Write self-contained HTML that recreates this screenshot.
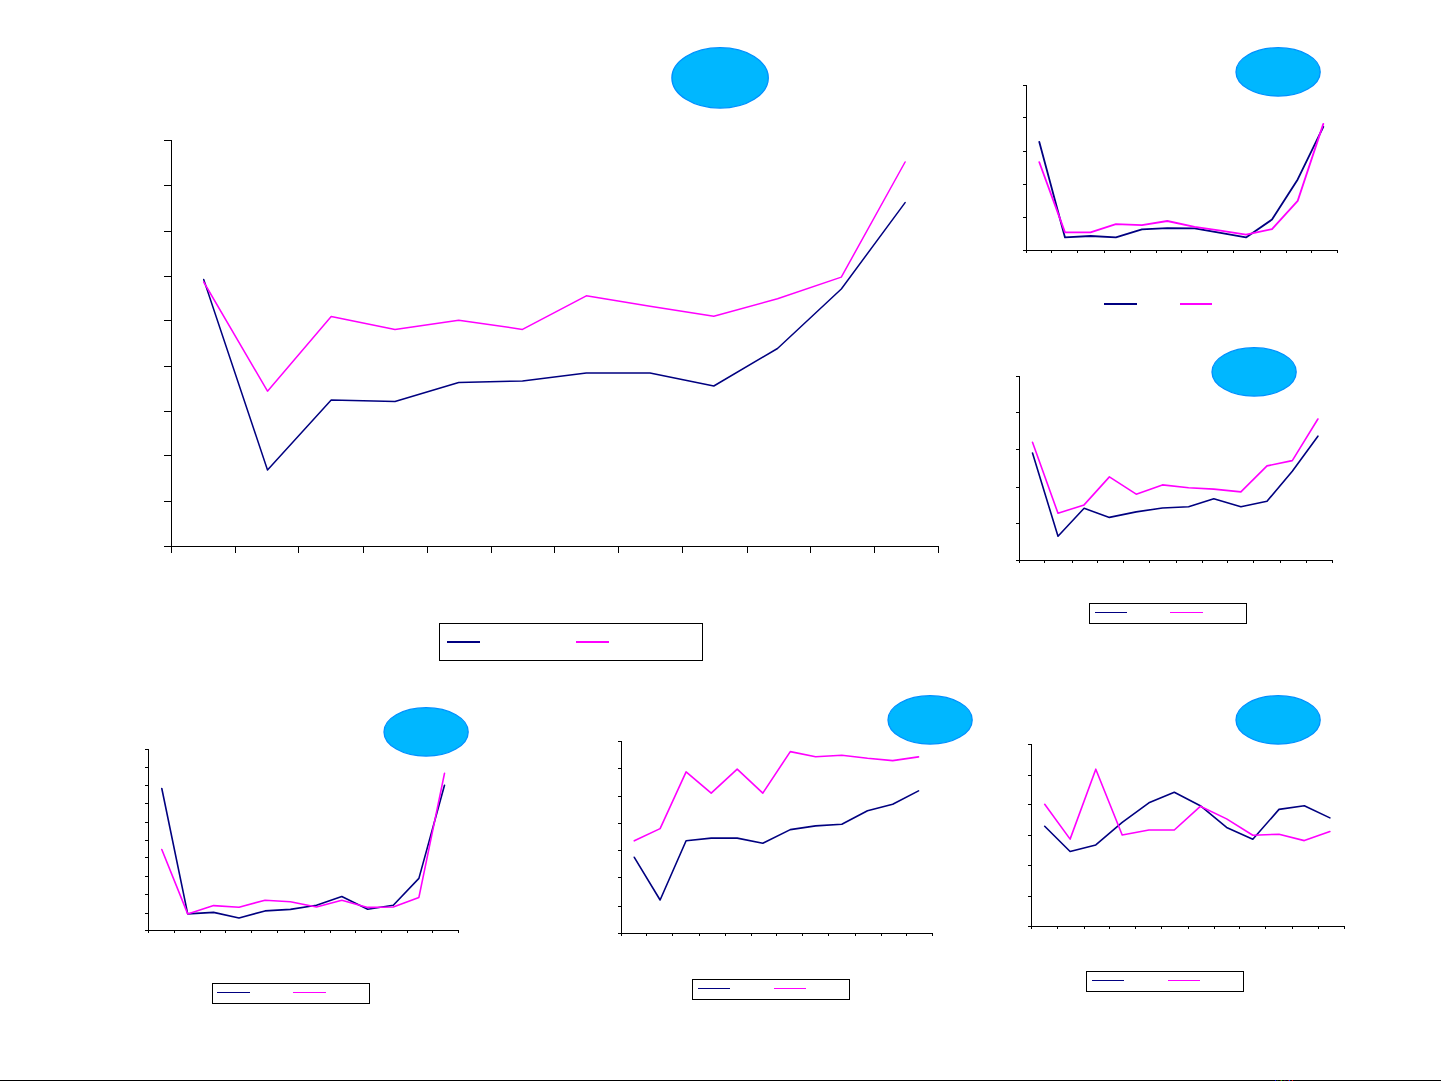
<!DOCTYPE html>
<html lang="en">
<head>
<meta charset="utf-8">
<title>Charts</title>
<style>
html,body{margin:0;padding:0;background:#fff;width:1441px;height:1081px;overflow:hidden;font-family:"Liberation Sans",sans-serif;}
svg{display:block;position:absolute;left:0;top:0;}
</style>
</head>
<body>
<svg width="1441" height="1081" viewBox="0 0 1441 1081">
<rect x="0" y="0" width="1441" height="1081" fill="#fff"/>
<path d="M171.5 140.0V547.0M164.0 546.5H939.0M164.0 140.5H171.5M164.0 185.5H171.5M164.0 231.5H171.5M164.0 276.5H171.5M164.0 320.5H171.5M164.0 366.5H171.5M164.0 411.5H171.5M164.0 455.5H171.5M164.0 501.5H171.5M171.5 546.5V553.0M235.5 546.5V553.0M298.5 546.5V553.0M363.5 546.5V553.0M427.5 546.5V553.0M491.5 546.5V553.0M554.5 546.5V553.0M618.5 546.5V553.0M682.5 546.5V553.0M747.5 546.5V553.0M810.5 546.5V553.0M874.5 546.5V553.0M938.5 546.5V553.0" stroke="#000" stroke-width="1" fill="none" shape-rendering="crispEdges"/>
<polyline points="203.7,279.5 267.5,470.0 331.2,400.0 395.0,401.5 458.7,382.5 522.5,381.0 586.3,373.0 650.0,373.0 713.8,386.0 777.5,348.5 841.3,289.0 905.1,202.6" fill="none" stroke="#000080" stroke-width="1.5" stroke-linejoin="round" stroke-linecap="round"/>
<polyline points="203.7,282.0 267.5,391.2 331.2,316.5 395.0,329.5 458.7,320.2 522.5,329.4 586.3,295.8 650.0,306.2 713.8,316.2 777.5,298.8 841.3,277.1 905.1,162.0" fill="none" stroke="#FF00FF" stroke-width="1.5" stroke-linejoin="round" stroke-linecap="round"/>
<ellipse cx="720.1" cy="77.9" rx="48.2" ry="30.2" fill="#00B7FF" stroke="#0090FF" stroke-width="1.3"/>
<rect x="439.5" y="623.5" width="263" height="37" fill="#fff" stroke="#000" stroke-width="1" shape-rendering="crispEdges"/>
<path d="M447 642H480" stroke="#000080" stroke-width="2" shape-rendering="crispEdges"/>
<path d="M576 642H609" stroke="#FF00FF" stroke-width="2" shape-rendering="crispEdges"/>
<path d="M1026.5 85.0V251.0M1023.0 250.5H1338.0M1023.0 85.5H1026.5M1023.0 117.5H1026.5M1023.0 151.5H1026.5M1023.0 184.5H1026.5M1023.0 217.5H1026.5M1026.5 250.5V253.0M1051.5 250.5V253.0M1077.5 250.5V253.0M1104.5 250.5V253.0M1130.5 250.5V253.0M1156.5 250.5V253.0M1181.5 250.5V253.0M1207.5 250.5V253.0M1233.5 250.5V253.0M1260.5 250.5V253.0M1286.5 250.5V253.0M1311.5 250.5V253.0M1337.5 250.5V253.0" stroke="#000" stroke-width="1" fill="none" shape-rendering="crispEdges"/>
<polyline points="1039.3,141.9 1065.0,237.4 1090.5,236.0 1115.9,237.4 1141.9,229.3 1167.3,228.1 1194.6,228.4 1220.5,232.9 1246.0,237.4 1272.0,219.6 1297.7,179.4 1323.3,126.9" fill="none" stroke="#000080" stroke-width="1.8" stroke-linejoin="round" stroke-linecap="round"/>
<polyline points="1039.3,162.2 1065.0,232.4 1090.5,232.4 1115.9,224.1 1141.9,225.2 1167.3,221.0 1194.6,226.8 1220.5,230.7 1246.0,234.6 1272.0,229.1 1297.7,200.9 1323.3,123.9" fill="none" stroke="#FF00FF" stroke-width="1.8" stroke-linejoin="round" stroke-linecap="round"/>
<ellipse cx="1278.1" cy="71.9" rx="42.1" ry="24.2" fill="#00B7FF" stroke="#0090FF" stroke-width="1.3"/>
<path d="M1104 304H1137" stroke="#000080" stroke-width="2" shape-rendering="crispEdges"/>
<path d="M1180 304H1212" stroke="#FF00FF" stroke-width="2" shape-rendering="crispEdges"/>
<path d="M1019.5 376.0V561.0M1016.0 560.5H1333.0M1016.0 376.5H1019.5M1016.0 412.5H1019.5M1016.0 449.5H1019.5M1016.0 487.5H1019.5M1016.0 523.5H1019.5M1019.5 560.5V563.0M1044.5 560.5V563.0M1072.5 560.5V563.0M1097.5 560.5V563.0M1123.5 560.5V563.0M1149.5 560.5V563.0M1176.5 560.5V563.0M1202.5 560.5V563.0M1227.5 560.5V563.0M1253.5 560.5V563.0M1280.5 560.5V563.0M1306.5 560.5V563.0M1332.5 560.5V563.0" stroke="#000" stroke-width="1" fill="none" shape-rendering="crispEdges"/>
<polyline points="1032.5,453.0 1058.0,536.3 1084.1,508.3 1109.4,517.4 1136.2,511.9 1162.4,508.0 1188.6,506.7 1213.8,498.8 1240.9,506.7 1267.0,501.2 1292.3,471.3 1317.9,436.2" fill="none" stroke="#000080" stroke-width="1.6" stroke-linejoin="round" stroke-linecap="round"/>
<polyline points="1032.5,442.3 1058.0,513.3 1084.1,504.9 1109.4,476.9 1136.2,494.2 1162.4,484.9 1188.6,487.7 1213.8,489.1 1240.9,491.9 1267.0,465.9 1292.3,460.6 1317.9,419.0" fill="none" stroke="#FF00FF" stroke-width="1.6" stroke-linejoin="round" stroke-linecap="round"/>
<ellipse cx="1254.1" cy="371.9" rx="42.1" ry="24.2" fill="#00B7FF" stroke="#0090FF" stroke-width="1.3"/>
<rect x="1089.5" y="603.5" width="157" height="20" fill="#fff" stroke="#000" stroke-width="1" shape-rendering="crispEdges"/>
<path d="M1095 612.5H1127" stroke="#000080" stroke-width="1" shape-rendering="crispEdges"/>
<path d="M1170 612.5H1203" stroke="#FF00FF" stroke-width="1" shape-rendering="crispEdges"/>
<path d="M148.5 749.0V931.0M145.0 930.5H459.0M145.0 749.5H148.5M145.0 767.5H148.5M145.0 785.5H148.5M145.0 803.5H148.5M145.0 822.5H148.5M145.0 840.5H148.5M145.0 857.5H148.5M145.0 876.5H148.5M145.0 894.5H148.5M145.0 913.5H148.5M148.5 930.5V933.0M174.5 930.5V933.0M200.5 930.5V933.0M225.5 930.5V933.0M251.5 930.5V933.0M277.5 930.5V933.0M304.5 930.5V933.0M330.5 930.5V933.0M355.5 930.5V933.0M381.5 930.5V933.0M407.5 930.5V933.0M432.5 930.5V933.0M458.5 930.5V933.0" stroke="#000" stroke-width="1" fill="none" shape-rendering="crispEdges"/>
<polyline points="161.8,788.5 187.7,913.9 213.6,912.4 239.0,918.0 265.0,910.9 290.4,909.4 316.5,905.2 341.8,896.5 367.7,909.3 393.3,905.2 418.9,878.4 444.5,785.3" fill="none" stroke="#000080" stroke-width="1.6" stroke-linejoin="round" stroke-linecap="round"/>
<polyline points="161.8,849.5 187.7,913.9 213.6,905.6 239.0,907.2 265.0,900.2 290.4,901.7 316.5,907.0 341.8,900.2 367.7,907.4 393.3,907.0 418.9,897.4 444.5,773.3" fill="none" stroke="#FF00FF" stroke-width="1.6" stroke-linejoin="round" stroke-linecap="round"/>
<ellipse cx="426.1" cy="731.9" rx="42.1" ry="24.2" fill="#00B7FF" stroke="#0090FF" stroke-width="1.3"/>
<rect x="212.5" y="983.5" width="157" height="20" fill="#fff" stroke="#000" stroke-width="1" shape-rendering="crispEdges"/>
<path d="M217 992.5H250" stroke="#000080" stroke-width="1" shape-rendering="crispEdges"/>
<path d="M293 992.5H326" stroke="#FF00FF" stroke-width="1" shape-rendering="crispEdges"/>
<path d="M621.5 741.0V934.0M618.0 933.5H933.0M618.0 741.5H621.5M618.0 768.5H621.5M618.0 796.5H621.5M618.0 823.5H621.5M618.0 850.5H621.5M618.0 877.5H621.5M618.0 906.5H621.5M621.5 933.5V936.0M646.5 933.5V936.0M672.5 933.5V936.0M699.5 933.5V936.0M725.5 933.5V936.0M751.5 933.5V936.0M776.5 933.5V936.0M802.5 933.5V936.0M828.5 933.5V936.0M855.5 933.5V936.0M881.5 933.5V936.0M906.5 933.5V936.0M932.5 933.5V936.0" stroke="#000" stroke-width="1" fill="none" shape-rendering="crispEdges"/>
<polyline points="634.3,857.3 660.1,900.0 686.1,840.8 711.2,838.1 737.2,838.1 762.8,843.2 790.3,829.6 815.6,825.9 841.8,824.3 867.5,810.7 892.7,804.3 918.5,790.9" fill="none" stroke="#000080" stroke-width="1.6" stroke-linejoin="round" stroke-linecap="round"/>
<polyline points="634.3,840.8 660.1,828.6 686.1,771.9 711.2,793.1 737.2,769.2 762.8,793.1 790.3,751.6 815.6,756.7 841.8,755.2 867.5,758.3 892.7,760.6 918.5,756.9" fill="none" stroke="#FF00FF" stroke-width="1.6" stroke-linejoin="round" stroke-linecap="round"/>
<ellipse cx="930.1" cy="719.9" rx="42.1" ry="24.2" fill="#00B7FF" stroke="#0090FF" stroke-width="1.3"/>
<rect x="692.5" y="979.5" width="157" height="20" fill="#fff" stroke="#000" stroke-width="1" shape-rendering="crispEdges"/>
<path d="M698 988.5H730" stroke="#000080" stroke-width="1" shape-rendering="crispEdges"/>
<path d="M774 988.5H806" stroke="#FF00FF" stroke-width="1" shape-rendering="crispEdges"/>
<path d="M1031.5 744.0V927.0M1028.0 926.5H1345.0M1028.0 744.5H1031.5M1028.0 775.5H1031.5M1028.0 804.5H1031.5M1028.0 835.5H1031.5M1028.0 865.5H1031.5M1028.0 896.5H1031.5M1031.5 926.5V929.0M1057.5 926.5V929.0M1084.5 926.5V929.0M1109.5 926.5V929.0M1135.5 926.5V929.0M1161.5 926.5V929.0M1188.5 926.5V929.0M1214.5 926.5V929.0M1239.5 926.5V929.0M1265.5 926.5V929.0M1292.5 926.5V929.0M1318.5 926.5V929.0M1344.5 926.5V929.0" stroke="#000" stroke-width="1" fill="none" shape-rendering="crispEdges"/>
<polyline points="1044.7,826.3 1070.1,851.5 1095.8,844.9 1122.2,822.4 1148.9,802.8 1174.3,792.3 1200.3,805.7 1226.6,827.4 1252.8,839.3 1279.0,809.4 1304.3,805.7 1329.9,817.9" fill="none" stroke="#000080" stroke-width="1.6" stroke-linejoin="round" stroke-linecap="round"/>
<polyline points="1044.7,804.3 1070.1,839.1 1095.8,769.2 1122.2,835.0 1148.9,830.0 1174.3,830.0 1200.3,806.3 1226.6,818.9 1252.8,835.2 1279.0,834.2 1304.3,840.6 1329.9,831.5" fill="none" stroke="#FF00FF" stroke-width="1.6" stroke-linejoin="round" stroke-linecap="round"/>
<ellipse cx="1278.1" cy="719.9" rx="42.1" ry="24.2" fill="#00B7FF" stroke="#0090FF" stroke-width="1.3"/>
<rect x="1086.5" y="971.5" width="157" height="20" fill="#fff" stroke="#000" stroke-width="1" shape-rendering="crispEdges"/>
<path d="M1092 980.5H1124" stroke="#000080" stroke-width="1" shape-rendering="crispEdges"/>
<path d="M1168 980.5H1200" stroke="#FF00FF" stroke-width="1" shape-rendering="crispEdges"/>
<rect x="0" y="1080" width="1441" height="1" fill="#000" shape-rendering="crispEdges"/>
<rect x="1275" y="1080" width="1" height="1" fill="#0000ff" shape-rendering="crispEdges"/>
<rect x="1277" y="1080" width="1" height="1" fill="#004000" shape-rendering="crispEdges"/>
<rect x="1280" y="1080" width="1" height="1" fill="#800000" shape-rendering="crispEdges"/>
<rect x="1281" y="1080" width="1" height="1" fill="#00c000" shape-rendering="crispEdges"/>
<rect x="1284" y="1080" width="1" height="1" fill="#402000" shape-rendering="crispEdges"/>
<rect x="1285" y="1080" width="1" height="1" fill="#000040" shape-rendering="crispEdges"/>
<rect x="1288" y="1080" width="1" height="1" fill="#a00000" shape-rendering="crispEdges"/>
<rect x="1289" y="1080" width="1" height="1" fill="#0040ff" shape-rendering="crispEdges"/>
<rect x="1292" y="1080" width="1" height="1" fill="#ff0000" shape-rendering="crispEdges"/>
</svg>
</body>
</html>
